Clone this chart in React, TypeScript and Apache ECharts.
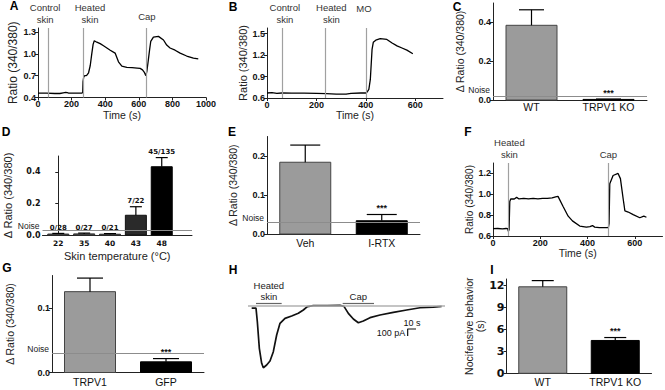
import React, { useEffect, useRef } from "react";
import * as echarts from "echarts";

const FONT = '"Liberation Sans", Arial, sans-serif';
const FONT_D = '"DejaVu Sans", sans-serif';

// ---------- Panel A ----------
const aTime = [0, 50, 100, 130, 150, 165, 180, 220, 262, 266, 268, 272, 278, 286, 292, 301, 311, 320, 328, 335, 350, 370, 390, 410, 430, 459, 479, 499, 529, 560, 590, 608, 622, 632, 642, 648, 657, 664, 671, 687, 717, 747, 766, 786, 816, 846, 885, 925, 954];
const aRatio = [0.46, 0.46, 0.455, 0.455, 0.465, 0.47, 0.462, 0.46, 0.462, 0.47, 0.62, 0.68, 0.7, 0.7, 0.71, 0.74, 0.84, 1.0, 1.13, 1.18, 1.16, 1.14, 1.11, 1.08, 1.05, 1.01, 0.89, 0.83, 0.815, 0.81, 0.805, 0.8, 0.78, 0.75, 0.7, 0.76, 0.92, 1.05, 1.17, 1.23, 1.24, 1.19, 1.12, 1.08, 1.05, 1.01, 0.97, 0.94, 0.93];
const aMarkerTimes = [60, 268, 642];
const aMarkerNames = ["Control\nskin", "Heated\nskin", "Cap"];
const aXTicks = [0, 200, 400, 600, 800, 1000];
const aYTicks = [0.4, 0.7, 1.0, 1.3];

// ---------- Panel B ----------
const bTime = [0, 20, 40, 60, 100, 150, 200, 240, 280, 320, 340, 380, 400, 404, 412, 418, 425, 430, 440, 458, 485, 506, 526, 546, 566, 590];
const bRatio = [0.67, 0.675, 0.665, 0.67, 0.668, 0.667, 0.665, 0.66, 0.655, 0.655, 0.665, 0.67, 0.67, 0.68, 0.72, 0.86, 1.28, 1.38, 1.41, 1.43, 1.42, 1.37, 1.33, 1.3, 1.27, 1.22];
const bMarkerTimes = [60, 236, 400];
const bMarkerNames = ["Control\nskin", "Heated\nskin", "MO"];
const bXTicks = [0, 200, 400, 600];
const bYTicks = [0.6, 0.9, 1.2, 1.5];

// ---------- Panel C ----------
const cCats = ["WT", "TRPV1 KO"];
const cMeans = [0.385, 0.003];
const cSems = [0.08, 0.002];
const cSig = ["", "***"];
const cNoise = 0.024;
const cYTicks = [0.0, 0.2, 0.4];

// ---------- Panel D ----------
const dCats = ["22", "35", "40", "43", "48"];
const dMeans = [0.006, 0.007, 0.005, 0.125, 0.432];
const dSems = [0.004, 0.005, 0.004, 0.054, 0.058];
const dFractions = ["0/28", "0/27", "0/21", "7/22", "45/135"];
const dNoise = 0.025;
const dYTicks = [0.0, 0.2, 0.4];

// ---------- Panel E ----------
const eCats = ["Veh", "I-RTX"];
const eMeans = [0.184, 0.034];
const eSems = [0.044, 0.016];
const eSig = ["", "***"];
const eNoise = 0.028;
const eYTicks = [0.0, 0.1, 0.2];

// ---------- Panel F ----------
const fTime = [0, 20, 40, 55, 62, 65, 68, 71, 75, 90, 100, 110, 130, 150, 170, 190, 210, 230, 250, 265, 275, 296, 318, 336, 367, 395, 410, 421, 430, 450, 470, 488, 491, 494, 508, 529, 539, 551, 558, 572, 593, 621, 638, 649];
const fRatio = [0.67, 0.672, 0.668, 0.672, 0.67, 0.645, 0.66, 0.93, 0.955, 0.955, 0.97, 0.955, 0.96, 0.955, 0.96, 0.955, 0.96, 0.96, 0.965, 0.975, 0.98, 0.885, 0.79, 0.745, 0.695, 0.685, 0.69, 0.7, 0.685, 0.68, 0.68, 0.68, 0.72, 1.1, 1.18, 1.2, 1.15, 0.95, 0.84, 0.83, 0.805, 0.775, 0.79, 0.78];
const fMarkerTimes = [65, 488];
const fMarkerNames = ["Heated\nskin", "Cap"];
const fXTicks = [0, 200, 400, 600];
const fYTicks = [0.6, 0.8, 1.0, 1.2];

// ---------- Panel G ----------
const gCats = ["TRPV1", "GFP"];
const gMeans = [0.125, 0.0165];
const gSems = [0.021, 0.005];
const gSig = ["", "***"];
const gNoise = 0.029;
const gYTicks = [0.0, 0.1];

// ---------- Panel H ----------
const hTime = [4.4, 9.6, 11.2, 13.6, 16.4, 18.4, 22.4, 26.4, 30.4, 34.4, 38.4, 44.4, 52.4, 60.4, 66.4, 71.2, 78.4, 95, 110.4, 115.2, 120.4, 126.4, 132.4, 138.4, 146.4, 158.4, 174.4, 190.4, 206.4, 222.4, 232.4];
const hCurrent = [-35, -35, -229, -609, -823, -886, -847, -790, -657, -419, -252, -181, -147, -109, -61, -14, 0, 2, 5, -10, -109, -190, -243, -219, -171, -133, -95, -61, -29, -19, -10];
const hStimNames = ["Heated\nskin", "Cap"];
const hStimStart = [9.6, 113.6];
const hStimEnd = [40.4, 151.2];
const hStimLevel = 34;
const hScaleT = 10; // s
const hScaleI = 100; // pA
const hScaleOrigin = [191.6, -333];

// ---------- Panel I ----------
const iCats = ["WT", "TRPV1 KO"];
const iMeans = [11.85, 4.5];
const iSems = [0.85, 0.4];
const iSig = ["", "***"];
const iYTicks = [0, 3, 6, 9, 12];

const GRAY = "#9b9b9b";
const AXIS = "#222";

function yAx(gi: number, min: number, max: number, ticks: number[], fmt: (v: number) => string, name: string, nameGap: number, nameSize: number, labelSize = 9, family = FONT) {
  return {
    type: "value", gridIndex: gi, min, max,
    name, nameLocation: "middle", nameGap, nameRotate: 90,
    nameTextStyle: { fontFamily: FONT, fontSize: nameSize, color: "#222", lineHeight: nameSize + 0.5 },
    axisLine: { show: true, lineStyle: { color: AXIS, width: 1 } },
    axisTick: { show: true, length: 3, customValues: ticks, lineStyle: { color: AXIS } },
    axisLabel: { customValues: ticks, formatter: fmt, fontFamily: family, fontWeight: "bold", fontSize: labelSize, color: "#111", margin: 2 },
    splitLine: { show: false },
  };
}

function xTimeAx(gi: number, max: number, ticks: number[], nameGap: number) {
  return {
    type: "value", gridIndex: gi, min: 0, max,
    name: "Time (s)", nameLocation: "middle", nameGap,
    nameTextStyle: { fontFamily: FONT, fontSize: 10.5, color: "#222" },
    axisLine: { show: true, lineStyle: { color: AXIS, width: 1 } },
    axisTick: { show: true, length: 3, customValues: ticks, lineStyle: { color: AXIS } },
    axisLabel: { customValues: ticks, formatter: (v: number) => String(v), fontFamily: FONT, fontWeight: "bold", fontSize: 9, color: "#111", margin: 2 },
    splitLine: { show: false },
  };
}

function xCatAx(gi: number, cats: string[], margin: number) {
  return {
    type: "category", gridIndex: gi, data: cats,
    axisLine: { show: true, lineStyle: { color: AXIS, width: 1 } },
    axisTick: { show: false },
    axisLabel: { fontFamily: FONT, fontSize: 10.5, color: "#111", margin },
    splitLine: { show: false },
  };
}

function traceSeries(gi: number, t: number[], v: number[], mTimes: number[], mNames: string[], offsets: number[][]) {
  return {
    type: "line", xAxisIndex: gi, yAxisIndex: gi,
    data: t.map((x, i) => [x, v[i]]),
    showSymbol: false, symbol: "none", silent: true,
    lineStyle: { color: "#000", width: 1.3 },
    markLine: {
      symbol: "none", silent: true,
      lineStyle: { color: "#a0a0a0", width: 1.2, type: "solid" },
      label: { position: "end", color: "#333", fontFamily: FONT, fontSize: 9.5, lineHeight: 11.5, distance: 3 },
      data: mTimes.map((x, i) => ({ xAxis: x, label: { formatter: mNames[i], offset: offsets[i] } })),
    },
  };
}

function barSeries(gi: number, means: number[], sems: number[], fills: string[], strokes: string[], barW: number, capW: number, tops: string[], topFont: string) {
  return {
    type: "custom", xAxisIndex: gi, yAxisIndex: gi, silent: true,
    data: means.map((m, i) => [i, m, sems[i]]),
    encode: { x: 0, y: 1 },
    renderItem: (params: any, api: any) => {
      const i = params.dataIndex;
      const x = api.value(0);
      const m = api.value(1);
      const s = api.value(2);
      const p0 = api.coord([x, 0]);
      const p1 = api.coord([x, m]);
      const p2 = api.coord([x, m + s]);
      const children: any[] = [
        { type: "rect", shape: { x: p0[0] - barW / 2, y: p1[1], width: barW, height: Math.max(p0[1] - p1[1], 0.8) }, style: { fill: fills[i], stroke: strokes[i], lineWidth: 1 } },
        { type: "line", shape: { x1: p0[0], y1: p1[1], x2: p0[0], y2: p2[1] }, style: { stroke: "#000", lineWidth: 1.2 } },
        { type: "line", shape: { x1: p0[0] - capW / 2, y1: p2[1], x2: p0[0] + capW / 2, y2: p2[1] }, style: { stroke: "#000", lineWidth: 1.2 } },
      ];
      if (tops[i]) {
        children.push({
          type: "text", x: p0[0], y: p2[1] - 2,
          style: { text: tops[i], font: topFont, fill: "#111", align: "center", verticalAlign: "bottom", textAlign: "center", textVerticalAlign: "bottom" },
        });
      }
      return { type: "group", children };
    },
  };
}

function noiseSeries(gi: number, level: number, dy = -4.5) {
  return {
    type: "line", xAxisIndex: gi, yAxisIndex: gi, data: [], silent: true,
    markLine: {
      symbol: "none", silent: true,
      lineStyle: { color: "#8c8c8c", width: 1, type: "solid" },
      label: { position: "start", formatter: "Noise", fontFamily: FONT, fontSize: 8.5, color: "#222", distance: 3, offset: [0, dy] },
      data: [{ yAxis: level }],
    },
  };
}

const fmt1 = (v: number) => v.toFixed(1);

export default function App() {
  const ref = useRef<HTMLDivElement>(null);
  useEffect(() => {
    if (!ref.current) return;
    const chart = echarts.init(ref.current, null, { renderer: "svg" });
    const letters = [["A", 14, 6], ["B", 233, 7], ["C", 457, 7], ["D", 6, 132], ["E", 232, 132], ["F", 468, 132], ["G", 7, 268], ["H", 233, 270], ["I", 492, 270]];
    const option: any = {
      animation: false,
      backgroundColor: "#fff",
      grid: [
        { left: 38, top: 28, width: 168, height: 69.5 },
        { left: 267, top: 28, width: 176, height: 70 },
        { left: 493, top: 3, width: 154, height: 97 },
        { left: 42.5, top: 156, width: 149.5, height: 79 },
        { left: 267, top: 136.5, width: 153, height: 97.5 },
        { left: 493, top: 163, width: 169.5, height: 73 },
        { left: 52, top: 275.5, width: 152, height: 97 },
        { left: 248, top: 298.7, width: 197, height: 77 },
        { left: 506.5, top: 279, width: 145, height: 94.3 },
      ],
      xAxis: [
        xTimeAx(0, 1000, aXTicks, 9),
        xTimeAx(1, 712, bXTicks, 9),
        xCatAx(2, cCats, 1),
        {
          type: "value", gridIndex: 3, min: -0.61, max: 5.17,
          name: "Skin temperature (°C)", nameLocation: "middle", nameGap: 15,
          nameTextStyle: { fontFamily: FONT, fontSize: 11, color: "#222" },
          axisLine: { show: true, lineStyle: { color: AXIS, width: 1 } },
          axisTick: { show: false },
          axisLabel: { customValues: dCats.map((_, i) => i), formatter: (v: number) => dCats[Math.round(v)] ?? "", fontFamily: FONT_D, fontWeight: "bold", fontSize: 7.5, color: "#111", margin: 4 },
          splitLine: { show: false },
        },
        xCatAx(4, eCats, 3),
        xTimeAx(5, 717, fXTicks, 10.5),
        xCatAx(6, gCats, 4),
        { type: "value", gridIndex: 7, min: 0, max: 236.4, show: false },
        xCatAx(8, iCats, 3),
      ],
      yAxis: [
        yAx(0, 0.4, 1.355, aYTicks, fmt1, "Ratio (340/380)", 19, 12),
        yAx(1, 0.6, 1.58, bYTicks, fmt1, "Ratio (340/380)", 18.5, 11),
        yAx(2, 0, 0.5, cYTicks, fmt1, "Δ Ratio (340/380)", 28, 10.5),
        yAx(3, 0, 0.5, dYTicks, fmt1, "Δ Ratio (340/380)", 29, 11, 8, FONT_D),
        yAx(4, 0, 0.25, eYTicks, fmt1, "Δ Ratio (340/380)", 28.5, 10.5),
        yAx(5, 0.6, 1.3, fYTicks, fmt1, "Ratio (340/380)", 18, 10),
        yAx(6, 0, 0.15, gYTicks, fmt1, "Δ Ratio (340/380)", 37, 10.5),
        { type: "value", gridIndex: 7, min: -1000, max: 100, show: false },
        yAx(8, 0, 12.92, iYTicks, (v: number) => String(v), "Nocifensive behavior\n(s)", 14.5, 10.5, 11, FONT_D),
      ],
      series: [
        traceSeries(0, aTime, aRatio, aMarkerTimes, aMarkerNames, [[-3, 0], [7, 0], [1, -3]]),
        traceSeries(1, bTime, bRatio, bMarkerTimes, bMarkerNames, [[3, 0], [6, 0], [-2, -11]]),
        noiseSeries(2, cNoise, -6.5),
        barSeries(2, cMeans, cSems, [GRAY, "#111"], ["#444", "#000"], 51, 25, cSig, `bold 9px ${FONT}`),
        noiseSeries(3, dNoise),
        barSeries(3, dMeans, dSems, ["#555", "#555", "#555", "#2a2a2a", "#000"], ["#333", "#333", "#333", "#111", "#000"], 21, 12, dFractions, `bold 7px ${FONT_D}`),
        noiseSeries(4, eNoise),
        barSeries(4, eMeans, eSems, [GRAY, "#000"], ["#444", "#000"], 51, 30, eSig, `bold 9px ${FONT}`),
        traceSeries(5, fTime, fRatio, fMarkerTimes, fMarkerNames, [[1, 0], [0, 0]]),
        noiseSeries(6, gNoise),
        barSeries(6, gMeans, gSems, [GRAY, "#000"], ["#444", "#000"], 51, 26, gSig, `bold 9px ${FONT}`),
        {
          type: "line", xAxisIndex: 7, yAxisIndex: 7, silent: true,
          data: hTime.map((t, i) => [t, hCurrent[i]]),
          showSymbol: false, symbol: "none",
          lineStyle: { color: "#111", width: 1.7 },
          z: 3,
          markLine: {
            symbol: "none", silent: true,
            data: [
              [{ coord: [0, 0] }, { coord: [236.4, 0] }],
              ...hStimNames.map((n, i) => [
                { coord: [hStimStart[i], hStimLevel], lineStyle: { color: "#666", width: 1.2, type: "solid" }, label: { show: true, formatter: n, position: "middle", fontFamily: FONT, fontSize: 9.5, lineHeight: 11, color: "#222", distance: 1 } },
                { coord: [hStimEnd[i], hStimLevel] },
              ]),
            ],
            lineStyle: { color: "#b0b0b0", width: 1.5, type: "solid" },
            label: { show: false },
          },
        },
        {
          type: "line", xAxisIndex: 7, yAxisIndex: 7, silent: true,
          data: [
            { value: [hScaleOrigin[0], hScaleOrigin[1] - hScaleI], label: { show: true, formatter: `${hScaleI} pA`, position: "left", distance: 2, offset: [0, -3.5], fontFamily: FONT, fontSize: 9, color: "#111" } },
            { value: [hScaleOrigin[0], hScaleOrigin[1]] },
            { value: [hScaleOrigin[0] + hScaleT, hScaleOrigin[1]], label: { show: true, formatter: `${hScaleT} s`, position: "top", distance: 1, offset: [-4, 0], fontFamily: FONT, fontSize: 9, color: "#111" } },
          ],
          showSymbol: true, symbol: "circle", symbolSize: 1,
          itemStyle: { color: "rgba(0,0,0,0)" },
          label: { show: false },
          lineStyle: { color: "#111", width: 1.2 },
        },
        barSeries(8, iMeans, iSems, [GRAY, "#000"], ["#444", "#000"], 48, 22, iSig, `bold 9px ${FONT}`),
      ],
      graphic: letters.map(([t, x, y]) => ({
        type: "text", x, y,
        style: { text: t, font: `900 12px ${FONT}`, fill: "#000", textAlign: "center", textVerticalAlign: "middle", align: "center", verticalAlign: "middle" },
      })),
    };
    chart.setOption(option);
    return () => chart.dispose();
  }, []);
  return <div ref={ref} style={{ width: 665, height: 390, position: "absolute", left: 0, top: 0 }} />;
}
